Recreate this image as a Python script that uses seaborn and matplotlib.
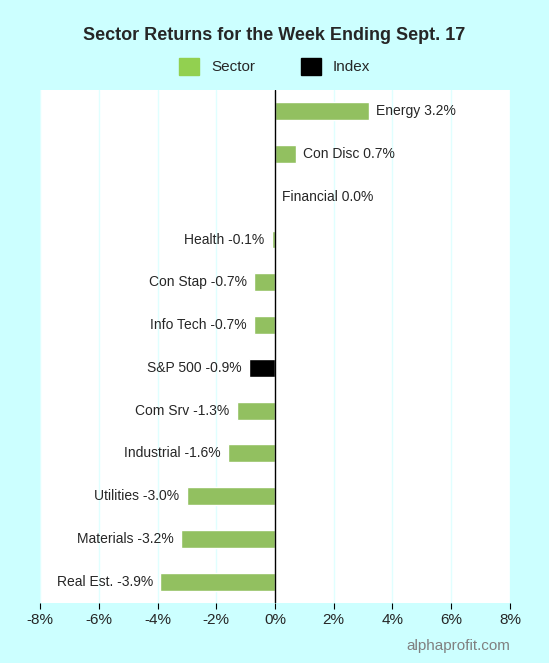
import pandas as pd
import matplotlib.pyplot as plt
import seaborn as sns
from matplotlib.patches import Patch

sectors = ["Energy", "Con Disc", "Financial", "Health", "Con Stap", "Info Tech",
           "S&P 500", "Com Srv", "Industrial", "Utilities", "Materials", "Real Est."]
returns = [3.2, 0.7, 0.0, -0.1, -0.7, -0.7, -0.9, -1.3, -1.6, -3.0, -3.2, -3.9]
kinds = ["Index" if s == "S&P 500" else "Sector" for s in sectors]

df = pd.DataFrame({"Sector": sectors, "Return": returns, "Kind": kinds})
palette = {"Sector": "#92d050", "Index": "#000000"}

sns.set_style("white")
plt.rcParams["font.family"] = ["Liberation Sans", "DejaVu Sans"]

fig = plt.figure(figsize=(5.49, 6.63), dpi=100, facecolor="#ccffff")
ax = fig.add_axes([0.0729, 0.0905, 0.856, 0.774])

sns.barplot(data=df, x="Return", y="Sector", hue="Kind", palette=palette,
            dodge=False, width=0.42, legend=False, ax=ax, orient="h")

ax.set_xlim(-8, 8)
ax.set_xticks(range(-8, 9, 2))
ax.set_xticklabels([f"{t}%" for t in range(-8, 9, 2)], fontsize=11)
ax.set_yticks([])
ax.set_xlabel("")
ax.set_ylabel("")
for x in range(-8, 9, 2):
    if x != 0:
        ax.axvline(x, color="#e0ffff", lw=1, zorder=0)
ax.axvline(0, color="black", lw=1, zorder=3)
for s in ax.spines.values():
    s.set_visible(False)
ax.tick_params(axis="x", length=4, color="black", bottom=True)

for i, (name, v) in enumerate(zip(sectors, returns)):
    label = f"{name} {v:.1f}%"
    if v >= 0:
        ax.text(v + 0.25, i, label, va="center", ha="left", fontsize=10)
    else:
        ax.text(v - 0.25, i, label, va="center", ha="right", fontsize=10)

fig.text(0.5, 0.947, "Sector Returns for the Week Ending Sept. 17",
         ha="center", va="center", fontsize=13, fontweight="bold")
handles = [Patch(color=palette["Sector"], label="Sector"),
           Patch(color=palette["Index"], label="Index")]
fig.legend(handles=handles, loc="center", bbox_to_anchor=(0.5, 0.9), ncol=2,
           frameon=False, fontsize=11, handlelength=1.3, handleheight=1.3,
           columnspacing=3)
fig.text(0.93, 0.025, "alphaprofit.com", ha="right", va="center",
         fontsize=11, color="#808080")

fig.savefig("out.png", dpi=100, facecolor=fig.get_facecolor())
